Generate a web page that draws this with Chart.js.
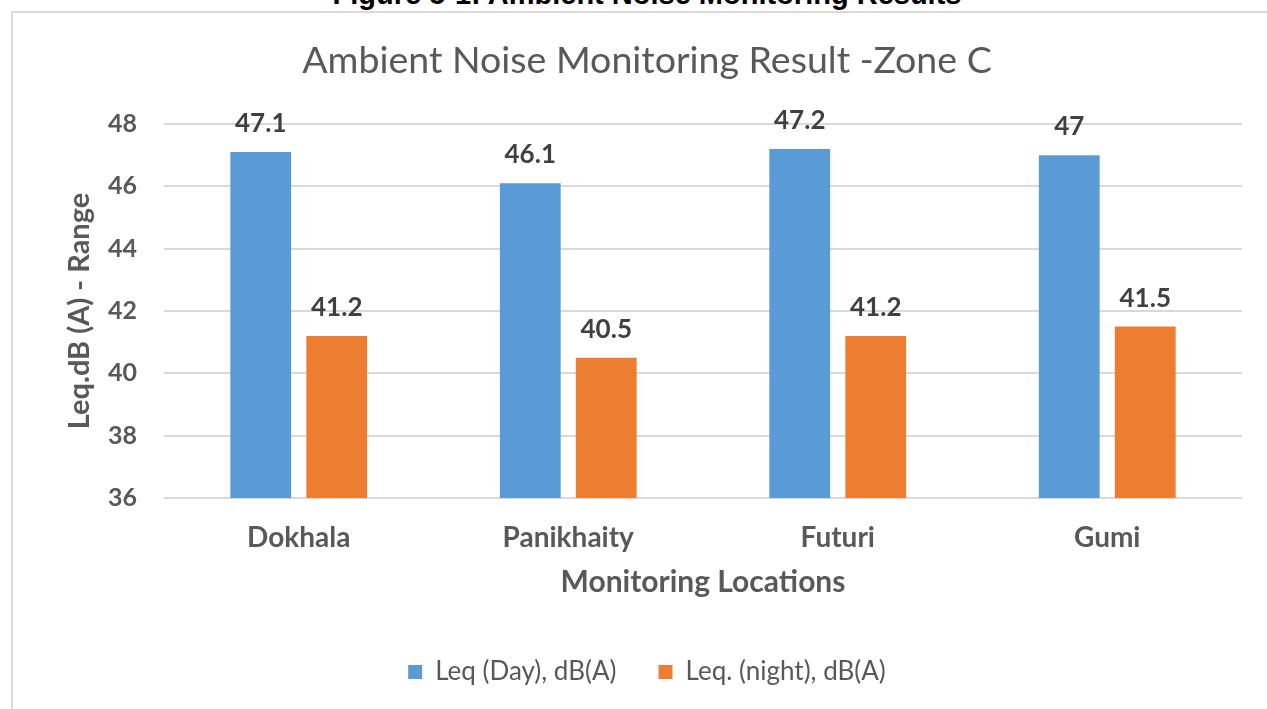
<html>
<head>
	<script src="https://cdn.jsdelivr.net/npm/chart.js@4.4.1/dist/chart.umd.min.js"></script>
	<style>
		body { margin: 0; overflow: hidden; background: #fff; }
		#caption {
			position: absolute; left: 0; top: -20px; width: 1294px;
			text-align: center; font: bold 29px "Liberation Sans", Arial, sans-serif;
			line-height: 29px; color: #000;
		}
		#frame {
			position: absolute; left: 11px; top: 11px;
			width: 1271px; height: 730px;
			border: 2px solid #d9d9d9;
		}
	</style>
</head>
<body>
	<div id="caption">Figure 5-1: Ambient Noise Monitoring Results</div>
	<div id="frame">
		<canvas id="myChart"></canvas>
	</div>
</body>
<script>

const locations = ['Dokhala', 'Panikhaity', 'Futuri', 'Gumi'];
const dayLeq = [47.1, 46.1, 47.2, 47];
const nightLeq = [41.2, 40.5, 41.2, 41.5];
const yMin = 36, yMax = 48, yStep = 2;

const grey = '#595959';
const font = 'Lato';

// value printed above each bar
const barValues = {
  id: 'barValues',
  afterDatasetsDraw(chart) {
    const ctx = chart.ctx;
    ctx.save();
    ctx.font = 'bold 26px ' + font;
    ctx.fillStyle = '#404040';
    ctx.textAlign = 'center';
    ctx.textBaseline = 'alphabetic';
    chart.data.datasets.forEach((ds, i) => {
      chart.getDatasetMeta(i).data.forEach((bar, j) => {
        ctx.fillText(String(ds.data[j]), bar.x, bar.y - 20);
      });
    });
    ctx.restore();
  }
};

const data = {
  labels: locations,
  datasets: [
    {
      label: 'Leq (Day), dB(A)',
      data: dayLeq,
      backgroundColor: '#5b9bd5',
      categoryPercentage: 0.564,
      barPercentage: 0.8
    },
    {
      label: 'Leq. (night), dB(A)',
      data: nightLeq,
      backgroundColor: '#ed7d31',
      categoryPercentage: 0.564,
      barPercentage: 0.8
    }
  ]
};

const config = {
  type: 'bar',
  data: data,
  plugins: [barValues],
  options: {
    maintainAspectRatio: false,
    responsive: true,
    animation: false,
    layout: { padding: { left: 39, right: 42, top: 0, bottom: 48 } },
    plugins: {
      tooltip: { enabled: false },
      title: {
        display: true,
        text: 'Ambient Noise Monitoring Result -Zone C',
        color: grey,
        font: { family: font, size: 37.5, weight: 'normal' },
        padding: { top: 25, bottom: 41 }
      },
      legend: {
        position: 'bottom',
        labels: {
          color: grey,
          font: { family: font, size: 26 },
          boxWidth: 14,
          boxHeight: 14,
          padding: 42
        }
      }
    },
    scales: {
      x: {
        grid: { display: false },
        border: { display: false },
        ticks: { color: grey, font: { family: font, size: 28, weight: 'bold' }, padding: 15 },
        title: {
          display: true,
          text: 'Monitoring Locations',
          color: grey,
          font: { family: font, size: 30, weight: 'bold' },
          padding: { top: 0, bottom: 17 }
        },
        afterFit: s => { s.height = 119; }
      },
      y: {
        min: yMin,
        max: yMax,
        grid: { color: '#d9d9d9', lineWidth: 2, drawTicks: false },
        border: { display: false },
        ticks: { stepSize: yStep, color: grey, font: { family: font, size: 25, weight: 'bold' }, padding: 27 },
        title: {
          display: true,
          text: 'Leq.dB (A) - Range',
          color: grey,
          font: { family: font, size: 29, weight: 'bold' },
          padding: { top: 10, bottom: 0 }
        },
        afterFit: s => { s.width = 112; }
      }
    }
  }
};

var ctx = document.getElementById('myChart');
var myChart = new Chart(ctx, config);

</script>
</html>
